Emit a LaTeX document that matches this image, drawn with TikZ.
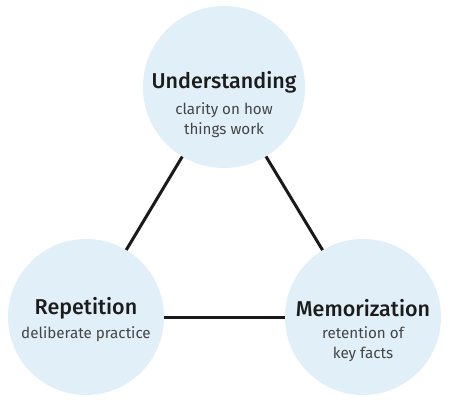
\documentclass[tikz,border=0pt]{standalone}
\usepackage{fontspec}
\setmainfont{Fira Sans}[BoldFont={Fira Sans Medium}]
\definecolor{circfill}{HTML}{E1EFF9}
\definecolor{titlecol}{HTML}{1C1C1C}
\definecolor{subcol}{HTML}{454545}
\tikzset{
  topic/.style={circle, fill=circfill, draw=none, inner sep=0pt, minimum size=#1},
  ttl/.style={text=titlecol, font=\bfseries\fontsize{21.5}{24}\selectfont, inner sep=0pt},
  sub/.style={text=subcol, font=\fontsize{15.2}{20}\selectfont, align=center, inner sep=0pt},
  link/.style={line width=3pt, draw=black!90}
}
\begin{document}
\begin{tikzpicture}[x=1pt,y=-1pt]
\useasboundingbox[fill=white] (0,0) rectangle (450,404);
\node[topic=162pt] (T) at (224,87) {};
\node[topic=156pt] (L) at (86,317) {};
\node[topic=156pt] (R) at (363,317) {};
\draw[link] (L) -- (T);
\draw[link] (R) -- (T);
\draw[link] (L) -- (R);
\node[ttl] (Tt) at (224,82) {Understanding};
\node[sub] (Ts) at (224,120) {clarity on how\\things work};
\node[ttl] (Lt) at (86,308) {Repetition};
\node[sub] (Ls) at (86,334) {deliberate practice};
\node[ttl] (Rt) at (363,308) {Memorization};
\node[sub] (Rs) at (363,344) {retention of\\key facts};
\end{tikzpicture}
\end{document}
